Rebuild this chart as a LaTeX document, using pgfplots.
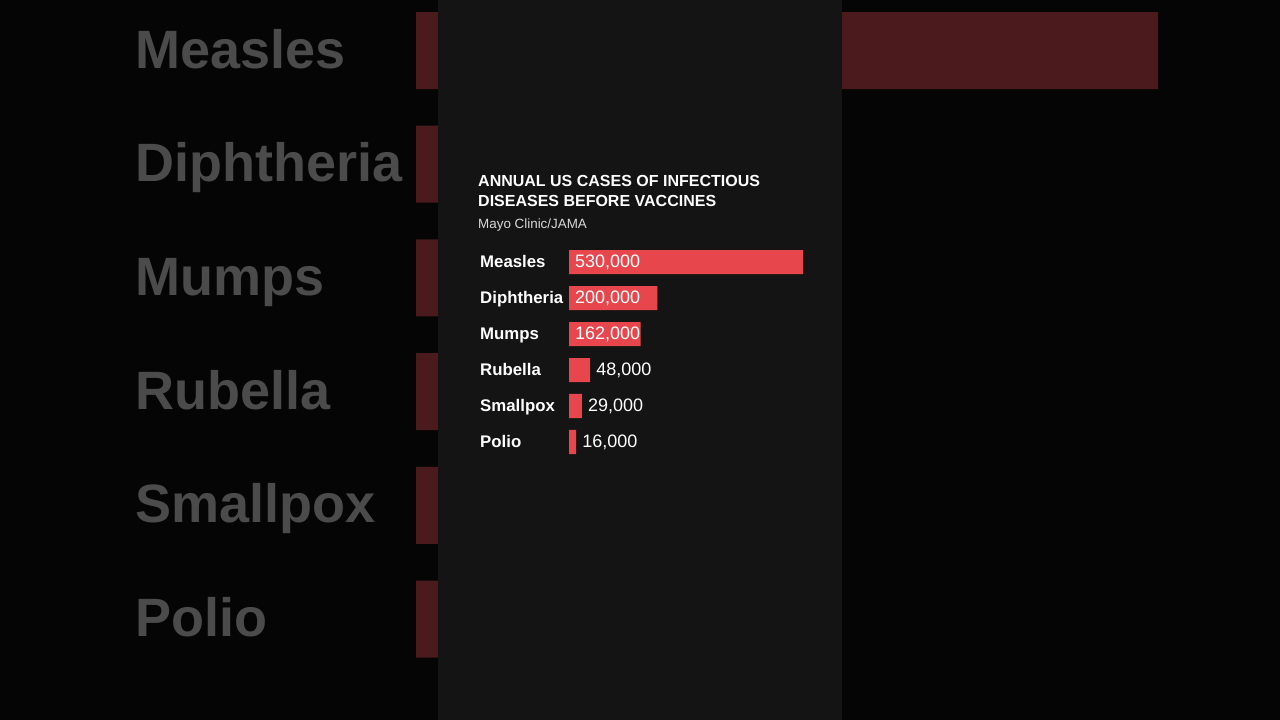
\documentclass[border=0pt]{standalone}
\usepackage{pgfplots}
\pgfplotsset{compat=1.18}
\usepackage{fontspec}
\setmainfont{Liberation Sans}
\definecolor{bgblack}{HTML}{050505}
\definecolor{panel}{HTML}{141414}
\definecolor{dimred}{HTML}{4A1A1C}
\definecolor{dimgray}{HTML}{4B4B4B}
\definecolor{barred}{HTML}{E7474C}
\definecolor{subgray}{HTML}{D8D8D8}
\begin{document}
\begin{tikzpicture}
\fill[bgblack,use as bounding box] (0,0) rectangle (1280bp,720bp);
% dim background chart
\begin{axis}[
  at={(416bp,44.15bp)}, anchor=south west,
  scale only axis, width=742bp, height=682.2bp,
  xmin=0, xmax=530000, ymin=-0.5, ymax=5.5, y dir=reverse,
  axis line style={draw=none}, tick style={draw=none},
  xtick=\empty, ytick={0,1,2,3,4,5},
  yticklabels={Measles,Diphtheria,Mumps,Rubella,Smallpox,Polio},
  yticklabel style={anchor=base west, inner sep=0pt, xshift=-281bp, yshift=-17.5bp,
    text=dimgray, font=\bfseries\fontsize{54bp}{60bp}\selectfont},
  clip=false,
]
\addplot[xbar, bar width=77bp, bar shift=0pt, fill=dimred, draw=none]
  coordinates {(530000,0) (200000,1) (162000,2) (48000,3) (29000,4) (16000,5)};
\end{axis}
% central panel
\fill[panel] (438bp,0) rectangle (842bp,720bp);
\node[anchor=base west, inner sep=0pt, text=white, font=\bfseries\fontsize{16bp}{20bp}\selectfont]
  at (478bp,533bp) {ANNUAL US CASES OF INFECTIOUS};
\node[anchor=base west, inner sep=0pt, text=white, font=\bfseries\fontsize{16bp}{20bp}\selectfont]
  at (478bp,513bp) {DISEASES BEFORE VACCINES};
\node[anchor=base west, inner sep=0pt, text=subgray, font=\fontsize{13.4bp}{15bp}\selectfont]
  at (478bp,491bp) {Mayo Clinic/JAMA};
% foreground chart
\begin{axis}[
  at={(569bp,260bp)}, anchor=south west,
  scale only axis, width=234bp, height=216bp,
  xmin=0, xmax=530000, ymin=-0.5, ymax=5.5, y dir=reverse,
  axis line style={draw=none}, tick style={draw=none},
  xtick=\empty, ytick={0,1,2,3,4,5},
  yticklabels={Measles,Diphtheria,Mumps,Rubella,Smallpox,Polio},
  yticklabel style={anchor=base west, inner sep=0pt, xshift=-89bp, yshift=-5.5bp,
    text=white, font=\bfseries\fontsize{16.8bp}{20bp}\selectfont},
  clip=false,
]
\addplot[xbar, bar width=24bp, bar shift=0pt, fill=barred, draw=none]
  coordinates {(530000,0) (200000,1) (162000,2) (48000,3) (29000,4) (16000,5)};
% labels inside the long bars
\addplot[draw=none, mark=none, nodes near coords, point meta=explicit symbolic,
  nodes near coords style={anchor=base west, inner sep=0pt, xshift=6bp, yshift=-5.5bp,
    text=white, font=\fontsize{18bp}{20bp}\selectfont}]
  coordinates {(0,0) [530,000] (0,1) [200,000] (0,2) [162,000]};
% labels outside the short bars
\addplot[draw=none, mark=none, nodes near coords, point meta=explicit symbolic,
  nodes near coords style={anchor=base west, inner sep=0pt, xshift=6bp, yshift=-5.5bp,
    text=white, font=\fontsize{18bp}{20bp}\selectfont}]
  coordinates {(48000,3) [48,000] (29000,4) [29,000] (16000,5) [16,000]};
\end{axis}
\end{tikzpicture}
\end{document}
